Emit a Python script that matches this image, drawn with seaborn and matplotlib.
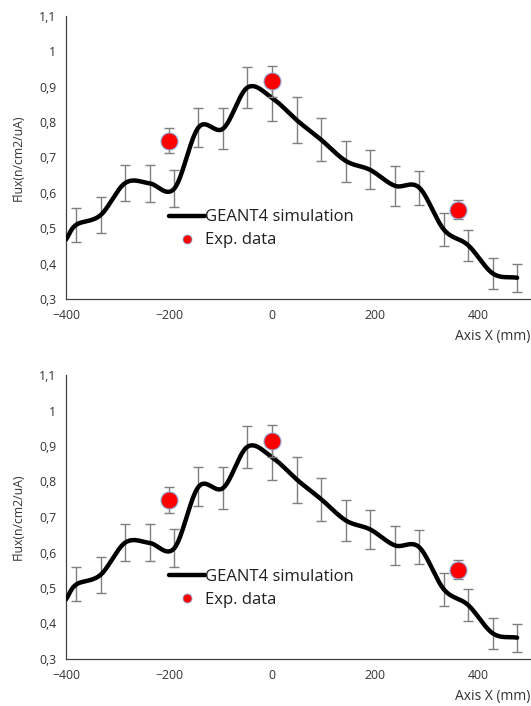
import numpy as np
import pandas as pd
import matplotlib
matplotlib.use("Agg")
import matplotlib.pyplot as plt
import seaborn as sns
from matplotlib.lines import Line2D
from matplotlib.ticker import MultipleLocator, FuncFormatter

# GEANT4 simulation
sim_x = [-400, -380, -333, -285, -238, -190, -143, -95, -48, 0, 48, 95, 143, 190, 238, 285, 333, 380, 428, 475]
sim_y = [0.468, 0.510, 0.537, 0.628, 0.627, 0.612, 0.785, 0.782, 0.898, 0.868, 0.805, 0.750, 0.690, 0.665, 0.620, 0.615, 0.496, 0.452, 0.372, 0.360]
sim_err = [np.nan, 0.048, 0.050, 0.051, 0.052, 0.053, 0.055, 0.059, 0.059, 0.064, 0.065, 0.061, 0.058, 0.055, 0.056, 0.048, 0.047, 0.044, 0.044, 0.040]

# experimental data
exp_x = [-200, 0, 360]
exp_y = [0.748, 0.915, 0.552]
exp_err = [0.036, 0.045, 0.027]


def smooth(x, y, n=30):
    # catmull-rom curve through the points, like excel's smoothed line
    x = np.asarray(x, float)
    y = np.asarray(y, float)
    px = np.concatenate([[2 * x[0] - x[1]], x, [2 * x[-1] - x[-2]]])
    py = np.concatenate([[2 * y[0] - y[1]], y, [2 * y[-1] - y[-2]]])
    xs, ys = [], []
    t = np.linspace(0, 1, n, endpoint=False)
    for i in range(1, len(px) - 2):
        for p, out in ((px, xs), (py, ys)):
            p0, p1, p2, p3 = p[i - 1], p[i], p[i + 1], p[i + 2]
            out.extend(0.5 * ((2 * p1) + (-p0 + p2) * t
                              + (2 * p0 - 5 * p1 + 4 * p2 - p3) * t ** 2
                              + (-p0 + 3 * p1 - 3 * p2 + p3) * t ** 3))
    xs.append(x[-1])
    ys.append(y[-1])
    return pd.DataFrame({"x": xs, "y": ys})


def comma(v, pos):
    return f"{v:g}".replace(".", ",")


def draw_panel(ax):
    curve = smooth(sim_x, sim_y)
    ax.errorbar(sim_x, sim_y, yerr=sim_err, fmt="none", ecolor="#7f7f7f",
                elinewidth=1.0, capsize=3.5, capthick=1.0, zorder=2)
    sns.lineplot(data=curve, x="x", y="y", sort=False, estimator=None,
                 color="black", linewidth=3.2, ax=ax, zorder=3)
    ax.errorbar(exp_x, exp_y, yerr=exp_err, fmt="none", ecolor="#7f7f7f",
                elinewidth=1.0, capsize=3.5, capthick=1.0, zorder=4)
    sns.scatterplot(x=exp_x, y=exp_y, color="#ff0000", edgecolor="#8faadc",
                    linewidth=0.8, s=150, ax=ax, zorder=5)

    ax.set_xlim(-400, 500)
    ax.set_ylim(0.3, 1.1)
    ax.xaxis.set_major_locator(MultipleLocator(200))
    ax.xaxis.set_minor_locator(MultipleLocator(40))
    ax.yaxis.set_major_locator(MultipleLocator(0.1))
    ax.yaxis.set_minor_locator(MultipleLocator(0.02))
    ax.yaxis.set_major_formatter(FuncFormatter(comma))
    ax.tick_params(which="both", direction="in", color="#404040", width=0.8,
                   labelsize=8.8, labelcolor="#333333")
    ax.tick_params(which="major", length=4, pad=7)
    ax.tick_params(which="minor", length=3)
    for s in ["top", "right"]:
        ax.spines[s].set_visible(False)
    for s in ["left", "bottom"]:
        ax.spines[s].set_color("#404040")
        ax.spines[s].set_linewidth(0.9)

    ax.set_ylabel("Flux(n/cm2/uA)", fontsize=8.8, color="#333333", labelpad=10)
    ax.set_xlabel("Axis X (mm)", fontsize=10, color="#333333", loc="right", labelpad=5)

    handles = [
        Line2D([0], [0], color="black", linewidth=3.2),
        Line2D([0], [0], color="#ff0000", marker="o", linestyle="none",
               markersize=6.5, markeredgecolor="#8faadc", markeredgewidth=0.6),
    ]
    ax.legend(handles, ["GEANT4 simulation", "Exp. data"], loc="upper left",
              bbox_to_anchor=(0.207, 0.34), frameon=False, fontsize=12,
              handlelength=2.15, handletextpad=0.05, labelspacing=0.42,
              borderaxespad=0, labelcolor="#202020")


sns.set_style("white")
plt.rcParams["font.family"] = ["Open Sans", "DejaVu Sans"]

fig = plt.figure(figsize=(5.31, 7.06), dpi=100)
W, H = 531, 706
ax1 = fig.add_axes([66 / W, 1 - 299 / H, 464 / W, 283 / H])
ax2 = fig.add_axes([66 / W, 1 - 659 / H, 464 / W, 284 / H])
draw_panel(ax1)
draw_panel(ax2)

fig.savefig("out.png", dpi=100)
